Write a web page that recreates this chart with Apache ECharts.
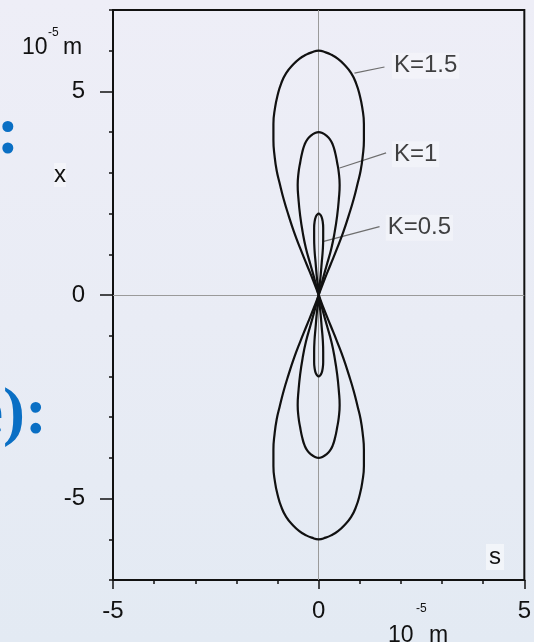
<!DOCTYPE html>
<html>
<head>
<meta charset="utf-8">
<script src="https://cdn.jsdelivr.net/npm/echarts@6/dist/echarts.min.js"></script>
<style>
  html, body { margin: 0; padding: 0; }
  body { background: linear-gradient(180deg, #eeeef7 0%, #e9ecf5 50%, #e3eaf3 100%); }
  #chart { width: 534px; height: 642px; }
</style>
</head>
<body>
<div id="chart"></div>
<script>
// Horizontal axis s and vertical axis x, both in units of 1e-5 m
const sRange = [-5, 5];
const xRange = [-7, 7];
const sMinorTicks = [-5, -4, -3, -2, -1, 0, 1, 2, 3, 4, 5];
const xMinorTicks = [-7, -6, -5, -4, -3, -2, -1, 0, 1, 2, 3, 4, 5, 6, 7];
const sTickLabels = [-5, 0, 5];
const xTickLabels = [-5, 0, 5];

// Lobe profiles: [x, half-width s], from the tip of the upper lobe down to the origin.
// The lower lobe is the mirror image of the upper one.
const lobeK15 = [[6.0, 0], [5.96, 0.17], [5.9, 0.31], [5.8, 0.47], [5.66, 0.62], [5.45, 0.79],
  [5.2, 0.91], [4.9, 1.0], [4.6, 1.06], [4.2, 1.1], [3.8, 1.1], [3.4, 1.07], [3.05, 1.02],
  [2.75, 0.95], [2.35, 0.85], [1.95, 0.73], [1.55, 0.6], [1.15, 0.45], [0.75, 0.29],
  [0.35, 0.13], [0, 0]];
const lobeK10 = [[4.0, 0], [3.97, 0.1], [3.92, 0.18], [3.83, 0.27], [3.7, 0.34], [3.5, 0.4],
  [3.25, 0.45], [3.0, 0.49], [2.7, 0.51], [2.35, 0.49], [1.95, 0.45], [1.55, 0.39],
  [1.15, 0.31], [0.75, 0.2], [0.35, 0.09], [0, 0]];
const lobeK05 = [[2.0, 0], [1.97, 0.04], [1.92, 0.07], [1.82, 0.095], [1.65, 0.11], [1.4, 0.11],
  [1.1, 0.1], [0.8, 0.075], [0.5, 0.05], [0.25, 0.025], [0, 0]];

// Curve labels and their leader lines (data coordinates)
const curveNames = ['K=1.5', 'K=1', 'K=0.5'];
const labelAnchors = [[1.78, 5.63], [1.78, 3.46], [1.63, 1.65]];
const leaderLines = [
  [[0.87, 5.45], [1.6, 5.6]],
  [[0.51, 3.12], [1.64, 3.49]],
  [[0.1, 1.31], [1.48, 1.68]]
];

// Walk the figure-eight: upper lobe right side up, left side down,
// then lower lobe right side down and left side back to the origin.
function figureEight(profile) {
  const fromOrigin = profile.slice().reverse();
  const pts = [];
  fromOrigin.forEach(([x, w]) => pts.push([w, x]));
  profile.slice(1).forEach(([x, w]) => pts.push([-w, x]));
  fromOrigin.slice(1).forEach(([x, w]) => pts.push([w, -x]));
  profile.slice(1).forEach(([x, w]) => pts.push([-w, -x]));
  return pts;
}

const chart = echarts.init(document.getElementById('chart'), null, { renderer: 'canvas' });

const FONT = '"Liberation Sans", Arial, Helvetica, sans-serif';
const INK = '#111111';

const baseAxis = (range, ticks, labels, pos) => ({
  type: 'value', min: range[0], max: range[1], position: pos,
  axisLine: { show: true, onZero: false, lineStyle: { color: INK, width: 2 } },
  axisTick: { show: true, customValues: ticks, length: 4, lineStyle: { color: INK, width: 1.5 } },
  axisLabel: { show: true, customValues: labels, color: INK, fontSize: 24, fontFamily: FONT,
    margin: pos === 'left' ? 28 : 19 },
  splitLine: { show: false }
});
const majorTickAxis = (range, ticks, pos) => ({
  type: 'value', min: range[0], max: range[1], position: pos,
  axisLine: { show: false, onZero: false },
  axisTick: { show: true, customValues: ticks, length: pos === 'left' ? 13 : 9, lineStyle: { color: INK, width: 1.5 } },
  axisLabel: { show: false },
  splitLine: { show: false }
});

const lobeSeries = [lobeK15, lobeK10, lobeK05].map((p, i) => ({
  name: curveNames[i],
  type: 'line',
  data: figureEight(p),
  smooth: 0.5,
  showSymbol: false,
  symbol: 'none',
  z: 5,
  lineStyle: { color: INK, width: 2.2 }
}));

chart.setOption({
  animation: false,
  backgroundColor: 'transparent',
  grid: { left: 113, top: 10, right: 9, bottom: 62, show: true,
    borderColor: INK, borderWidth: 2, backgroundColor: 'transparent' },
  xAxis: [baseAxis(sRange, sMinorTicks, sTickLabels, 'bottom'), majorTickAxis(sRange, sTickLabels, 'bottom')],
  yAxis: [baseAxis(xRange, xMinorTicks, xTickLabels, 'left'), majorTickAxis(xRange, xTickLabels, 'left')],
  series: [
    {
      type: 'line', data: [], z: 1, silent: true,
      markLine: {
        silent: true, symbol: 'none', animation: false,
        label: { show: false },
        lineStyle: { color: '#9a9a9a', width: 1, type: 'solid' },
        data: [{ xAxis: 0 }, { yAxis: 0 }]
      }
    },
    ...lobeSeries,
    {
      type: 'lines', coordinateSystem: 'cartesian2d', z: 4, silent: true,
      lineStyle: { color: '#6e6e6e', width: 1.2, opacity: 1 },
      data: leaderLines.map(c => ({ coords: c }))
    },
    {
      type: 'scatter', symbolSize: 0, z: 6, silent: true,
      data: labelAnchors.map((a, i) => ({ value: a, name: curveNames[i] })),
      label: {
        show: true, position: 'right', distance: 0,
        formatter: p => p.name,
        color: INK, fontSize: 24, fontFamily: FONT,
        backgroundColor: 'rgba(255,255,255,0.4)', padding: [1, 2]
      }
    }
  ],
  graphic: [
    // unit labels
    { type: 'text', left: 22, top: 36, style: { text: '10', font: '23px ' + FONT, fill: INK } },
    { type: 'text', left: 48, top: 27, style: { text: '-5', font: '12px ' + FONT, fill: INK } },
    { type: 'text', left: 63, top: 36, style: { text: 'm', font: '23px ' + FONT, fill: INK } },
    { type: 'text', left: 388, top: 624, style: { text: '10', font: '23px ' + FONT, fill: INK } },
    { type: 'text', left: 416, top: 603, style: { text: '-5', font: '12px ' + FONT, fill: INK } },
    { type: 'text', left: 429, top: 624, style: { text: 'm', font: '23px ' + FONT, fill: INK } },
    // axis names
    { type: 'text', x: 60, y: 175, style: { text: 'x', font: '24px ' + FONT, fill: INK,
      align: 'center', verticalAlign: 'middle', backgroundColor: 'rgba(255,255,255,0.4)' } },
    { type: 'text', x: 495, y: 557, style: { text: 's', font: '24px ' + FONT, fill: INK,
      align: 'center', verticalAlign: 'middle', backgroundColor: 'rgba(255,255,255,0.5)', padding: [1, 3] } },
    // slide heading fragments beside the plot
    { type: 'text', x: 8, y: 169, style: { text: ':', font: 'bold 68px "Liberation Serif", serif',
      fill: '#0a6fc4', align: 'center', verticalAlign: 'bottom' } },
    { type: 'text', x: 47, y: 449, style: { text: 'e):', font: 'bold 66px "Liberation Serif", serif',
      fill: '#0a6fc4', align: 'right', verticalAlign: 'bottom' } }
  ]
});
</script>
</body>
</html>
